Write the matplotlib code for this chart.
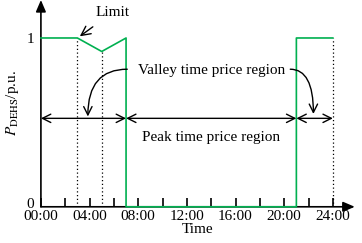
import matplotlib.pyplot as plt
import numpy as np

plt.rcParams['font.family'] = ['Liberation Serif', 'DejaVu Serif']
plt.rcParams['mathtext.fontset'] = 'stix'

# schedule of DEHS power (hours, p.u.)
hours = [0, 3, 5, 7, 7, 21, 21, 24]
power = [1, 1, 0.92, 1, 0, 0, 1, 1]

dotted_x = [3, 5, 24]
dotted_top = [1, 0.92, 1]

tick_pos = [0, 4, 8, 12, 16, 20, 24]
tick_lab = ["00:00", "04:00", "08:00", "12:00", "16:00", "20:00", "24:00"]

fs = 11

fig = plt.figure(figsize=(3.62, 2.43), dpi=100)
ax = fig.add_axes([0.113, 0.149, 0.867, 0.851])
ax.set_xlim(0, 25.8)
ax.set_ylim(0, 1.225)

for s in ax.spines.values():
    s.set_visible(False)

# axes with arrows
ax.annotate("", xy=(1, 0), xytext=(0, 0), xycoords="axes fraction",
            arrowprops=dict(arrowstyle="-|>,head_length=0.7,head_width=0.3",
                            color="black", lw=1.2, shrinkA=0, shrinkB=0))
ax.annotate("", xy=(0, 1), xytext=(0, 0), xycoords="axes fraction",
            arrowprops=dict(arrowstyle="-|>,head_length=0.7,head_width=0.3",
                            color="black", lw=1.2, shrinkA=0, shrinkB=0))

for x, t in zip(dotted_x, dotted_top):
    ax.plot([x, x], [0, t], color="black", ls=(0, (1, 2)), lw=0.9)

ax.plot(hours, power, color="#00B050", lw=1.2, zorder=3, clip_on=False)

ax.set_xticks(tick_pos)
ax.set_xticklabels(tick_lab)
ax.set_xticks(np.arange(2, 24, 4), minor=True)
ax.tick_params(axis="x", which="both", direction="in", length=6.5, width=1.2,
               labelsize=fs, pad=2)
ax.set_yticks([0.02, 1])
ax.set_yticklabels(["0", "1"])
ax.tick_params(axis="y", length=0, labelsize=fs, pad=5)

ax.set_xlabel("Time", fontsize=fs, labelpad=0)
ax.set_ylabel(r"$P_{\mathrm{DEHS}}$/p.u.", fontsize=fs, labelpad=4)

# region arrows
darrow = dict(arrowstyle="<->,head_length=0.6,head_width=0.3", color="black",
              lw=1.0, shrinkA=0, shrinkB=0)
for a, b in [(0, 7), (7, 21), (21, 24)]:
    ax.annotate("", xy=(b, 0.524), xytext=(a, 0.524), arrowprops=darrow)

ax.text(14.0, 0.413, "Peak time price region", fontsize=fs, ha="center", va="center")
ax.text(14.0, 0.81, "Valley time price region", fontsize=fs, ha="center", va="center")

carrow = dict(arrowstyle="->,head_length=0.6,head_width=0.3", color="black", lw=1.0,
              shrinkA=0, shrinkB=0)
ax.annotate("", xy=(3.86, 0.535), xytext=(7.1, 0.815),
            arrowprops=dict(carrow, connectionstyle="angle3,angleA=0,angleB=90"))
ax.annotate("", xy=(22.4, 0.55), xytext=(20.5, 0.815),
            arrowprops=dict(carrow, connectionstyle="angle3,angleA=0,angleB=90"))

ax.annotate("Limit", xy=(3.2, 1.01), xytext=(5.87, 1.15), fontsize=fs,
            ha="center", va="center",
            arrowprops=dict(arrowstyle="->,head_length=0.6,head_width=0.3",
                            color="black", lw=1.0, shrinkA=6, shrinkB=0))

fig.text(0.06, -0.004, "Fig. 2 Typical schedule diagram of DEHS", fontsize=fs,
         ha="left", va="top")

fig.savefig("out.png", dpi=100)
